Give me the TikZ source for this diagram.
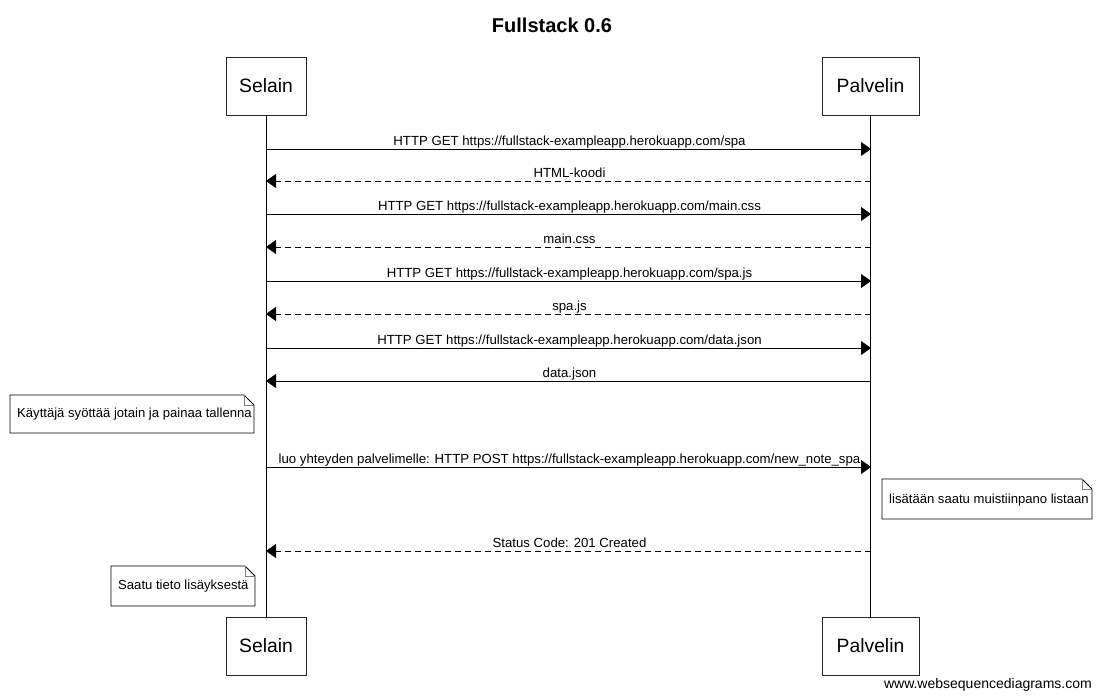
\documentclass[tikz,border=0pt]{standalone}
\usepackage{fontspec}
\setmainfont{Liberation Sans}
\usetikzlibrary{arrows.meta,calc}
\tikzset{
  actor/.style={draw=black!85, fill=white, minimum width=#1, minimum height=58pt, inner sep=0pt, font=\fontsize{19.3}{22}\selectfont, line width=0.8pt},
  msg/.style={-{Triangle[length=10pt,width=14pt]}, line width=0.8pt},
  reply/.style={msg, dash pattern=on 6pt off 4pt},
  lbl/.style={font=\fontsize{13.2}{15}\selectfont, inner sep=0pt, anchor=base},
  notetext/.style={font=\fontsize{13.1}{15}\selectfont, inner sep=0pt, anchor=west},
  life/.style={line width=0.8pt},
}
\newcommand{\notebox}[5]{% name, x1, y1, x2, y2
  \draw[line width=0.8pt, fill=white] (#2,#3) -- (#4-10,#3) -- (#4,#3+10) -- (#4,#5) -- (#2,#5) -- cycle;
  \draw[line width=0.5pt, draw=black!50] (#4-10,#3) -- (#4-10,#3+10) -- (#4,#3+10);
  \coordinate (#1) at (#2,#3);
}
\begin{document}
\begin{tikzpicture}[x=1pt,y=-1pt]
\useasboundingbox (0,0) rectangle (1101,699);
\node[font=\bfseries\fontsize{20}{24}\selectfont, inner sep=0pt] (title) at (552,25) {Fullstack 0.6};

\node[actor=80pt] (s1) at (266,86) {Selain};
\node[actor=97pt] (p1) at (870.5,86) {Palvelin};
\node[actor=80pt] (s2) at (266,646) {Selain};
\node[actor=97pt] (p2) at (870.5,646) {Palvelin};

\draw[life] (s1.south) -- (s2.north);
\draw[life] (p1.south) -- (p2.north);

\foreach \y/\d/\t in {
  149/msg/{HTTP GET https://fullstack-exampleapp.herokuapp.com/spa},
  214/msg/{HTTP GET https://fullstack-exampleapp.herokuapp.com/main.css},
  281/msg/{HTTP GET https://fullstack-exampleapp.herokuapp.com/spa.js},
  348/msg/{HTTP GET https://fullstack-exampleapp.herokuapp.com/data.json},
  467/msg/{luo yhteyden palvelimelle: HTTP POST https://fullstack-exampleapp.herokuapp.com/new\_note\_spa}
}{
  \coordinate (a\y) at (266,\y);
  \coordinate (b\y) at (871,\y);
  \draw[\d] (a\y) -- (b\y);
  \node[lbl] at (569.5,\y-4) {\t};
}
\foreach \y/\d/\t in {
  181/reply/{HTML-koodi},
  247/reply/{main.css},
  314/reply/{spa.js},
  381/msg/{data.json},
  551/reply/{Status Code: 201 Created}
}{
  \coordinate (a\y) at (871,\y);
  \coordinate (b\y) at (266,\y);
  \draw[\d] (a\y) -- (b\y);
  \node[lbl] at (569.5,\y-4) {\t};
}

\notebox{n1}{10}{395}{254}{433}
\node[notetext] (n1t) at (17,414) {Käyttäjä syöttää jotain ja painaa tallenna};
\notebox{n2}{882}{479}{1092}{519}
\node[notetext] (n2t) at (889,500) {lisätään saatu muistiinpano listaan};
\notebox{n3}{111}{566}{255}{606}
\node[notetext] (n3t) at (118,586) {Saatu tieto lisäyksestä};

\node[font=\fontsize{14}{16}\selectfont, inner sep=0pt, anchor=east] (footer) at (1092,685) {www.websequencediagrams.com};
\end{tikzpicture}
\end{document}
